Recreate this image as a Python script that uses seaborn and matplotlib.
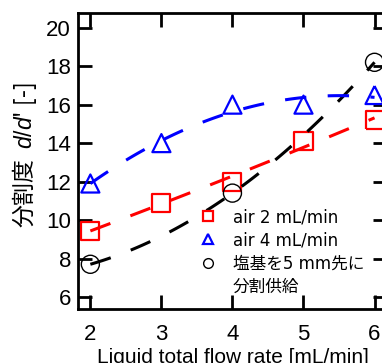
import seaborn as sns
import matplotlib.pyplot as plt
from matplotlib.lines import Line2D

# 데이터
flow = [2, 3, 4, 5, 6]
d_air2 = [9.45, 10.9, 12.0, 14.1, 15.2]
d_air4 = [11.9, 14.0, 16.0, 16.0, 16.5]
flow_split = [2, 4, 6]
d_split = [7.7, 11.4, 18.2]

legend_labels = ['air 2 mL/min', 'air 4 mL/min', '塩基を5 mm先に', '分割供給']
x_ticks = [2, 3, 4, 5, 6]
y_ticks = [6, 8, 10, 12, 14, 16, 18, 20]

sns.set_theme(style='ticks')
plt.rcParams['font.family'] = ['Liberation Sans', 'Noto Sans CJK JP']
plt.rcParams['mathtext.fontset'] = 'custom'
plt.rcParams['mathtext.it'] = 'Liberation Sans:italic'
plt.rcParams['mathtext.rm'] = 'Liberation Sans'

fig = plt.figure(figsize=(3.82, 3.63), dpi=100)
ax = fig.add_axes([0.204, 0.149, 0.809, 0.815])

# 속 빈 마커
sns.scatterplot(x=flow, y=d_air2, marker='s', s=169, facecolor='none',
                edgecolor='red', linewidth=1.6, ax=ax)
sns.scatterplot(x=flow, y=d_air4, marker='^', s=169, facecolor='none',
                edgecolor='blue', linewidth=1.6, ax=ax)
sns.scatterplot(x=flow_split, y=d_split, marker='o', s=169, facecolor='none',
                edgecolor='black', linewidth=1.0, ax=ax)

# 2차 근사 점선
for xs, ys, c in [(flow_split, d_split, 'black'), (flow, d_air2, 'red'),
                  (flow, d_air4, 'blue')]:
    sns.regplot(x=xs, y=ys, order=2, ci=None, scatter=False, ax=ax,
                line_kws=dict(color=c, lw=2.2, dashes=(7, 7)))

ax.set_xlim(1.825, 6.175)
ax.set_ylim(5.38, 20.76)
ax.set_xticks(x_ticks)
ax.set_yticks(y_ticks)
ax.tick_params(direction='in', length=10, width=2, top=True, right=True,
               labelsize=16, color='black', labelcolor='black')
ax.tick_params(axis='x', pad=11)
ax.tick_params(axis='y', pad=5)
for sp in ax.spines.values():
    sp.set_linewidth(2)
    sp.set_color('black')

ax.set_xlabel('Liquid total flow rate [mL/min]', fontsize=15, color='black', labelpad=2)
ax.set_ylabel("分割度  $d/d$' [-]", family=['Noto Sans CJK JP'], fontsize=16.5, color='black')
ax.yaxis.set_label_coords(-0.125, 0.52)

handles = [
    Line2D([], [], ls='', marker='s', ms=7, mfc='none', mec='red', mew=1.6),
    Line2D([], [], ls='', marker='^', ms=7, mfc='none', mec='blue', mew=1.6),
    Line2D([], [], ls='', marker='o', ms=7, mfc='none', mec='black', mew=1.0),
    Line2D([], [], ls='', marker=''),
]
ax.legend(handles, legend_labels, loc='upper left',
          bbox_to_anchor=(191 / 382, 1 - 208 / 363), bbox_transform=fig.transFigure,
          frameon=False, borderpad=0, borderaxespad=0, handlelength=2,
          handletextpad=0.5, labelspacing=0.32, labelcolor='black',
          prop=dict(family=['DejaVu Sans', 'Noto Sans CJK JP'], size=12))

fig.savefig('out.png', dpi=100)
